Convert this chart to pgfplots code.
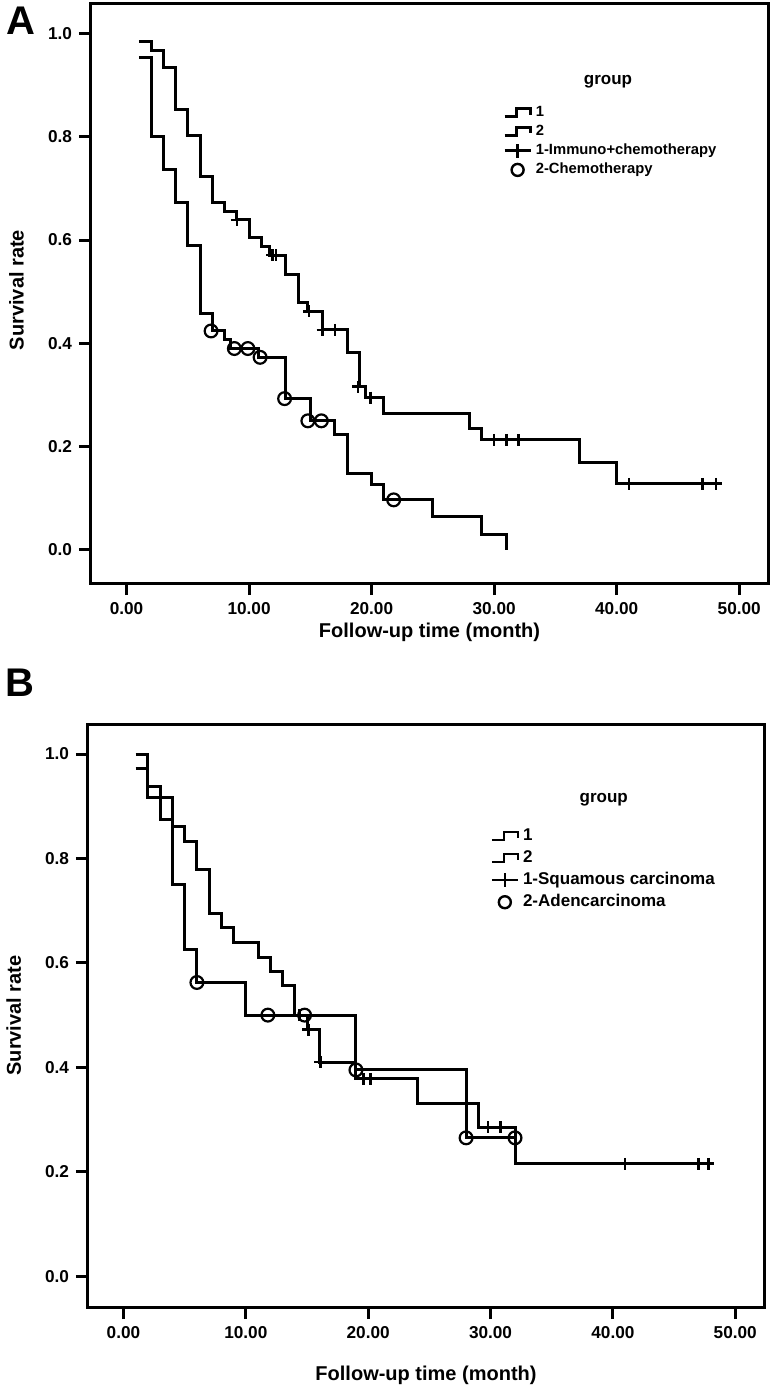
\documentclass[border=0pt]{standalone}
\usepackage{fontspec}
\setmainfont{Liberation Sans}
\usepackage{pgfplots}
\pgfplotsset{compat=1.18}

\pgfplotsset{
  kmaxis/.style={
    scale only axis,
    xmin=-2.9, xmax=52.35,
    axis line style={line width=1.5pt},
    xtick={0,10,20,30,40,50},
    xticklabels={0.00,10.00,20.00,30.00,40.00,50.00},
    ytick={0,0.2,0.4,0.6,0.8,1.0},
    yticklabels={0.0,0.2,0.4,0.6,0.8,1.0},
    tick align=outside,
    major tick length=6pt,
    xtick pos=bottom, ytick pos=left,
    tick style={line width=1.5pt, black},
    ticklabel style={font=\bfseries\fontsize{8.6}{9}\selectfont},
    label style={font=\bfseries\fontsize{10}{11}\selectfont},
    every axis plot/.append style={line width=1.5pt, black},
    legend cell align=left,
  },
  stepimg/.style={legend image code/.code={
      \draw[line width=1.2pt] (0pt,-2pt) -- (6pt,-2pt) -- (6pt,2pt) -- (13pt,2pt) -- (13pt,-1pt);}},
  plusimg/.style={legend image code/.code={
      \draw[line width=1.2pt] (0pt,0pt) -- (13pt,0pt);
      \draw[line width=1.2pt] (6.5pt,-3.5pt) -- (6.5pt,3.5pt);}},
  circimg/.style={legend image code/.code={
      \draw[line width=1.2pt] (6.5pt,0pt) circle (3pt);}},
}

\begin{document}
\begin{tikzpicture}
\path[use as bounding box] (0,0) rectangle (387pt,-696.5pt);

% ---------------- Panel A ----------------
\begin{axis}[kmaxis,
  at={(45.5pt,-1.5pt)}, anchor=north west,
  width=338.5pt, height=290pt,
  ymin=-0.064, ymax=1.059,
  xlabel={Follow-up time (month)},
  ylabel={Survival rate},
  xlabel style={at={(axis description cs:0.5,-0.0845)}, anchor=center},
  ylabel style={at={(axis description cs:-0.11,0.505)}, anchor=center},
  legend style={at={(axis description cs:0.6086,0.83)}, anchor=north west,
    draw=none, fill=none, inner sep=0pt, row sep=-1.2pt,
    font=\bfseries\fontsize{7.4}{8}\selectfont},
]
% group 1: immuno + chemotherapy
\addplot[const plot mark left, no marks, forget plot] table {
x y
1 0.984
2 0.968
3 0.935
4 0.853
5 0.802
6 0.724
7 0.673
8 0.656
9 0.639
10 0.605
11 0.588
11.7 0.571
13 0.534
14 0.479
14.8 0.462
16 0.426
18 0.383
19 0.316
19.5 0.295
21 0.265
28 0.236
29 0.213
37 0.170
40 0.128
48.6 0.128
};
\addplot[only marks, mark=+, mark size=3pt, mark options={line width=1.3pt}, forget plot] table {
x y
9 0.639
11.9 0.571
12.2 0.571
14.9 0.462
16 0.426
17 0.426
18.9 0.316
19.9 0.295
30 0.213
31 0.213
32 0.213
41 0.128
47 0.128
48.1 0.128
};
% group 2: chemotherapy
\addplot[const plot mark left, no marks, forget plot] table {
x y
1 0.953
2 0.800
3 0.737
4 0.673
5 0.590
6 0.458
7 0.424
8 0.408
8.5 0.390
10.8 0.373
13 0.293
15 0.250
17 0.223
18 0.148
20 0.126
21 0.097
25 0.065
29 0.030
31 0.0
};
\addplot[only marks, mark=o, mark size=3.2pt, mark options={line width=1.1pt}, forget plot] table {
x y
6.9 0.424
8.8 0.390
9.9 0.390
10.9 0.373
12.9 0.293
14.8 0.250
15.9 0.250
21.8 0.097
};
\addlegendimage{stepimg}\addlegendentry{1}
\addlegendimage{stepimg}\addlegendentry{2}
\addlegendimage{plusimg}\addlegendentry{1-Immuno+chemotherapy}
\addlegendimage{circimg}\addlegendentry{2-Chemotherapy}
\node[font=\bfseries\fontsize{8.5}{9}\selectfont] at (axis description cs:0.7637,0.8638) {group};
\end{axis}
\node[font=\bfseries\fontsize{20}{22}\selectfont] at (10.5pt,-10.5pt) {A};

% ---------------- Panel B ----------------
\begin{axis}[kmaxis,
  at={(44pt,-362pt)}, anchor=north west,
  width=338pt, height=291.5pt,
  ymin=-0.059, ymax=1.0575,
  xlabel={Follow-up time (month)},
  ylabel={Survival rate},
  xlabel style={at={(axis description cs:0.5,-0.117)}, anchor=center},
  ylabel style={at={(axis description cs:-0.11,0.50)}, anchor=center},
  legend style={at={(axis description cs:0.595,0.828)}, anchor=north west,
    draw=none, fill=none, inner sep=0pt, row sep=-0.5pt,
    font=\bfseries\fontsize{8.5}{9.5}\selectfont},
]
% group 1: squamous carcinoma
\addplot[const plot mark left, no marks, forget plot] table {
x y
1 0.972
2 0.917
4 0.861
5 0.833
6 0.778
7 0.694
8 0.667
9 0.639
11 0.611
12 0.583
13 0.556
14 0.500
15 0.472
16 0.410
19 0.378
24 0.330
29 0.285
32 0.215
48.3 0.215
};
\addplot[only marks, mark=+, mark size=3pt, mark options={line width=1.3pt}, forget plot] table {
x y
14.4 0.500
15.1 0.472
16.1 0.410
19.6 0.378
20.2 0.378
29.8 0.285
30.8 0.285
41 0.215
47 0.215
47.8 0.215
};
% group 2: adenocarcinoma
\addplot[const plot mark left, no marks, forget plot] table {
x y
1 1.0
2 0.9375
3 0.875
4 0.75
5 0.625
6 0.5625
10 0.50
19 0.395
28 0.265
32 0.265
};
\addplot[only marks, mark=o, mark size=3.2pt, mark options={line width=1.1pt}, forget plot] table {
x y
6 0.5625
11.8 0.50
14.8 0.50
19 0.395
28 0.265
32 0.265
};
\addlegendimage{stepimg}\addlegendentry{1}
\addlegendimage{stepimg}\addlegendentry{2}
\addlegendimage{plusimg}\addlegendentry{1-Squamous carcinoma}
\addlegendimage{circimg}\addlegendentry{2-Adencarcinoma}
\node[font=\bfseries\fontsize{8.5}{9.5}\selectfont] at (axis description cs:0.763,0.870) {group};
\end{axis}
\node[font=\bfseries\fontsize{20}{22}\selectfont] at (10pt,-341.5pt) {B};
\end{tikzpicture}
\end{document}
